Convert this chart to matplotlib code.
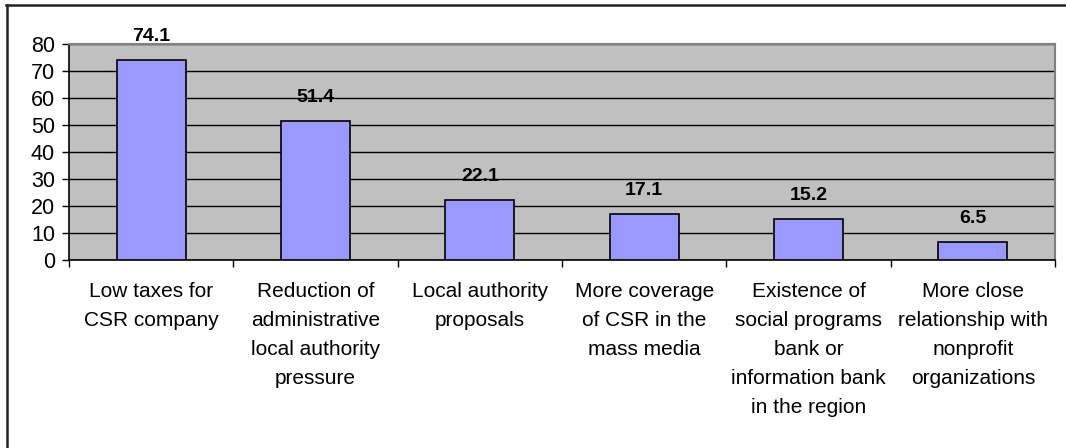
import numpy as np
import matplotlib.pyplot as plt
from matplotlib.lines import Line2D

plt.rcParams['font.family'] = ['Liberation Sans', 'DejaVu Sans']

categories = [
    'Low taxes for\nCSR company',
    'Reduction of\nadministrative\nlocal authority\npressure',
    'Local authority\nproposals',
    'More coverage\nof CSR in the\nmass media',
    'Existence of\nsocial programs\nbank or\ninformation bank\nin the region',
    'More close\nrelationship with\nnonprofit\norganizations',
]
values = [74.1, 51.4, 22.1, 17.1, 15.2, 6.5]
yticks = [0, 10, 20, 30, 40, 50, 60, 70, 80]

fig = plt.figure(figsize=(10.66, 4.48), dpi=100)
ax = fig.add_axes([69 / 1066, 1 - 260 / 448, (1055 - 69) / 1066, (260 - 44) / 448])

x = np.arange(len(values))
ax.set_facecolor('#C0C0C0')
ax.set_axisbelow(True)
ax.yaxis.grid(True, color='black', linewidth=1)
ax.bar(x, values, width=0.42, color='#9999FF', edgecolor='black', linewidth=1.2, zorder=3)

for xi, v in zip(x, values):
    ax.annotate(f'{v:.1f}', (xi, v), xytext=(0, 11), textcoords='offset points',
                ha='center', va='bottom', fontsize=14, fontweight='bold')

ax.set_xlim(-0.5, len(values) - 0.5)
ax.set_ylim(0, 80)
ax.set_yticks(yticks)
ax.tick_params(axis='y', labelsize=15.5, length=5, width=1, pad=5)

# category labels sit between the boundary ticks
ax.set_xticks(x)
ax.set_xticklabels(categories, fontsize=15, linespacing=1.66)
ax.tick_params(axis='x', length=0, pad=16)
ax.set_xticks(np.arange(len(values) + 1) - 0.5, minor=True)
ax.tick_params(axis='x', which='minor', length=5, width=1)

for s in ['left', 'bottom']:
    ax.spines[s].set_color('black')
    ax.spines[s].set_linewidth(1.2)
for s in ['top', 'right']:
    ax.spines[s].set_color('#808080')
    ax.spines[s].set_linewidth(1.5)

# chart area border
fig.add_artist(Line2D([6 / 1066, 1], [1 - 5 / 448, 1 - 5 / 448], color='#222222', linewidth=1.8))
fig.add_artist(Line2D([7 / 1066, 7 / 1066], [0, 1 - 5 / 448], color='#222222', linewidth=1.8))

fig.savefig('out.png', dpi=100)
